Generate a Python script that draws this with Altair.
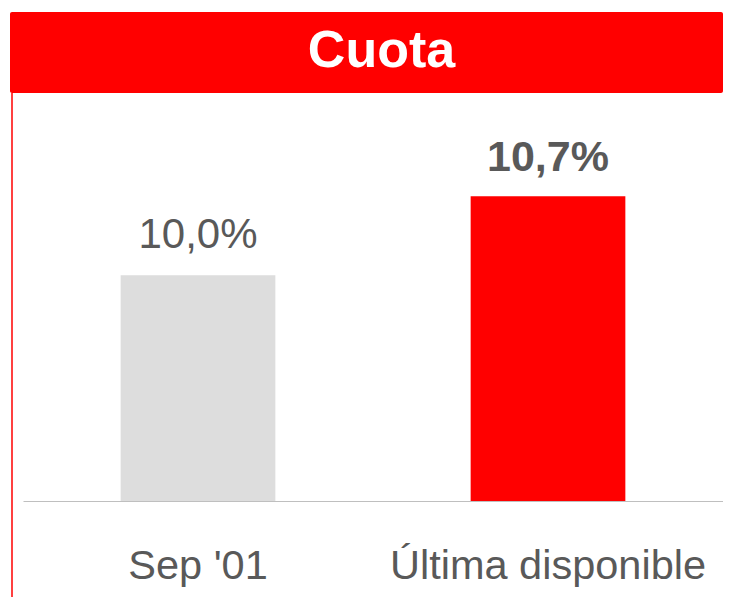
import altair as alt
import pandas as pd

# ---- data ----
categories = ["Sep '01", "Última disponible"]
values = [10.0, 10.7]
labels = ["10,0%", "10,7%"]
highlight = [False, True]
title_text = "Cuota"
axis_base = 8.0

df = pd.DataFrame({"cat": categories, "val": values, "lab": labels, "hi": highlight})
one = pd.DataFrame({"t": [title_text]})

W, H = 700, 408
TEXT = "#595959"
RED = "#FF0000"

x_enc = alt.X("cat:N", sort=categories,
              scale=alt.Scale(paddingInner=0.558, paddingOuter=0.279),
              axis=alt.Axis(title=None, ticks=False, domainColor="#BFBFBF", domainWidth=1,
                            labelAngle=0, labelFontSize=41.5, labelColor=TEXT,
                            labelFont="Liberation Sans", labelBaseline="alphabetic",
                            labelPadding=77, labelLimit=0, grid=False, zindex=1))
y_enc = alt.Y("val:Q", scale=alt.Scale(domain=[axis_base, 11.615], zero=False, nice=False),
              axis=None)

bars = alt.Chart(df).mark_bar().encode(
    x=x_enc, y=y_enc, y2=alt.datum(axis_base),
    color=alt.Color("hi:N", scale=alt.Scale(domain=[False, True], range=["#DDDDDD", RED]),
                    legend=None),
)

lab_norm = alt.Chart(df).transform_filter("!datum.hi").mark_text(
    baseline="alphabetic", dy=-27, fontSize=42, color=TEXT,
    font="Liberation Sans Narrow, Liberation Sans"
).encode(x=alt.X("cat:N", sort=categories), y="val:Q", text="lab:N")

lab_bold = alt.Chart(df).transform_filter("datum.hi").mark_text(
    baseline="alphabetic", dy=-25, fontSize=43, fontWeight="bold", color=TEXT,
    font="Liberation Sans Narrow, Liberation Sans"
).encode(x=alt.X("cat:N", sort=categories), y="val:Q", text="lab:N")

title_bar = alt.Chart(one).mark_rect(color=RED, cornerRadius=2).encode(
    x=alt.value(-13), x2=alt.value(W), y=alt.value(-81), y2=alt.value(0)
)
title_txt = alt.Chart(one).mark_text(
    fontSize=52, fontWeight="bold", color="white", font="Liberation Sans",
    baseline="alphabetic", align="center"
).encode(x=alt.value(358.5), y=alt.value(-26), text="t:N")
left_line = alt.Chart(one).mark_rule(color=RED, strokeWidth=1.5).encode(
    x=alt.value(-11), y=alt.value(0), y2=alt.value(H + 96)
)

chart = alt.layer(title_bar, title_txt, left_line, bars, lab_norm, lab_bold).properties(
    width=W, height=H,
    autosize=alt.AutoSizeParams(type="none"),
    padding={"left": 15, "top": 85, "right": 0, "bottom": 96},
).resolve_scale(x="shared", y="shared").configure_view(strokeWidth=0)

chart.save("out.html", embed_options={"renderer": "svg", "actions": False})
